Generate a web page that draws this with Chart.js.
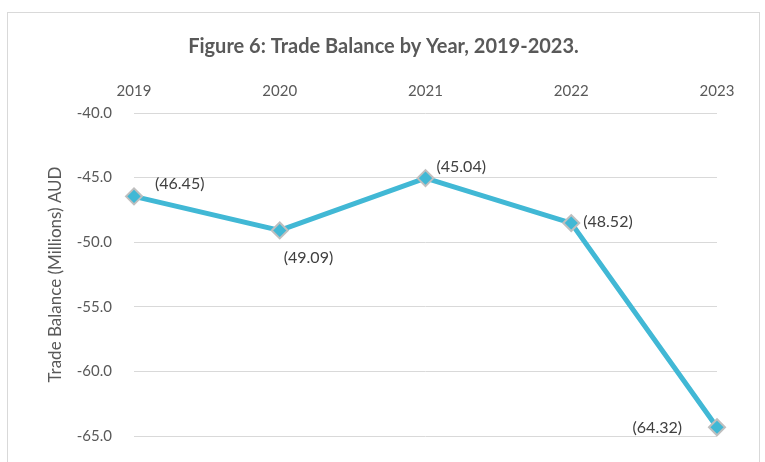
<!DOCTYPE html>
<html>
<head>
<meta charset="utf-8">
<script src="https://cdn.jsdelivr.net/npm/chart.js@4"></script>
<style>
  html, body { margin: 0; padding: 0; background: #fff; overflow: hidden; }
  #frame {
    position: absolute; left: 7px; top: 12px;
    width: 751px; height: 478px;
    border: 1px solid #D9D9D9;
  }
</style>
</head>
<body>
<div id="frame"><canvas id="tradeChart" width="751" height="478"></canvas></div>
<script>
// Data
const years = ['2019', '2020', '2021', '2022', '2023'];
const tradeBalance = [-46.45, -49.09, -45.04, -48.52, -64.32];
const chartTitle = 'Figure 6: Trade Balance by Year, 2019-2023.';

const FONT = "Lato, 'Open Sans', sans-serif";
const LINE_BLUE = '#41B8D5';

// where each value label sits relative to its marker
const labelSpots = [
    { dx: 21, dy: -12, align: 'left' },
    { dx: 4, dy: 27, align: 'left' },
    { dx: 11, dy: -11, align: 'left' },
    { dx: 12, dy: -1, align: 'left' },
    { dx: -35, dy: 1, align: 'right' }
];

// draws "(46.45)" style labels next to the markers
const valueLabels = {
    id: 'valueLabels',
    afterDatasetsDraw(chart) {
        const c = chart.ctx;
        const meta = chart.getDatasetMeta(0);
        c.save();
        c.font = '16px ' + FONT;
        c.fillStyle = '#404040';
        c.textBaseline = 'middle';
        meta.data.forEach((pt, i) => {
            const spot = labelSpots[i];
            const v = tradeBalance[i];
            c.textAlign = spot.align;
            c.fillText('(' + Math.abs(v).toFixed(2) + ')', pt.x + spot.dx, pt.y + spot.dy);
        });
        c.restore();
    }
};

// title centred on the whole frame, not on the plot
const frameTitle = {
    id: 'frameTitle',
    afterDraw(chart) {
        const c = chart.ctx;
        c.save();
        c.font = 'bold 20px ' + FONT;
        c.fillStyle = '#595959';
        c.textAlign = 'center';
        c.textBaseline = 'middle';
        c.fillText(chartTitle, chart.width / 2, 34);
        c.restore();
    }
};

const ctx = document.getElementById('tradeChart').getContext('2d');
new Chart(ctx, {
    type: 'line',
    data: {
        labels: years,
        datasets: [{
            label: 'Trade Balance',
            data: tradeBalance,
            borderColor: LINE_BLUE,
            borderWidth: 5,
            tension: 0,
            pointStyle: 'rectRot',
            pointRadius: 8,
            pointBackgroundColor: LINE_BLUE,
            pointBorderColor: '#BFBFBF',
            pointBorderWidth: 2,
            clip: false
        }]
    },
    options: {
        responsive: false,
        animation: false,
        layout: { padding: { left: 0, right: 42, top: 45, bottom: 55 } },
        plugins: {
            legend: { display: false },
            tooltip: { enabled: false },
            title: { display: false }
        },
        scales: {
            x: {
                position: 'top',
                offset: false,
                grid: { display: false, drawTicks: false },
                border: { display: false },
                ticks: {
                    color: '#595959',
                    font: { family: FONT, size: 15 },
                    padding: 13,
                    maxRotation: 0
                },
                afterFit: s => { s.height = 55; }
            },
            y: {
                min: -65,
                max: -40,
                grid: { color: '#D9D9D9', lineWidth: 1, drawTicks: false },
                border: { display: false },
                ticks: {
                    stepSize: 5,
                    color: '#595959',
                    font: { family: FONT, size: 15 },
                    padding: 22,
                    callback: v => v.toFixed(1)
                },
                title: {
                    display: true,
                    text: 'Trade Balance (Millions) AUD',
                    color: '#595959',
                    font: { family: FONT, size: 17 },
                    padding: { top: 37, bottom: 0 }
                },
                afterFit: s => { s.width = 126; }
            }
        }
    },
    plugins: [valueLabels, frameTitle]
});
</script>
</body>
</html>
